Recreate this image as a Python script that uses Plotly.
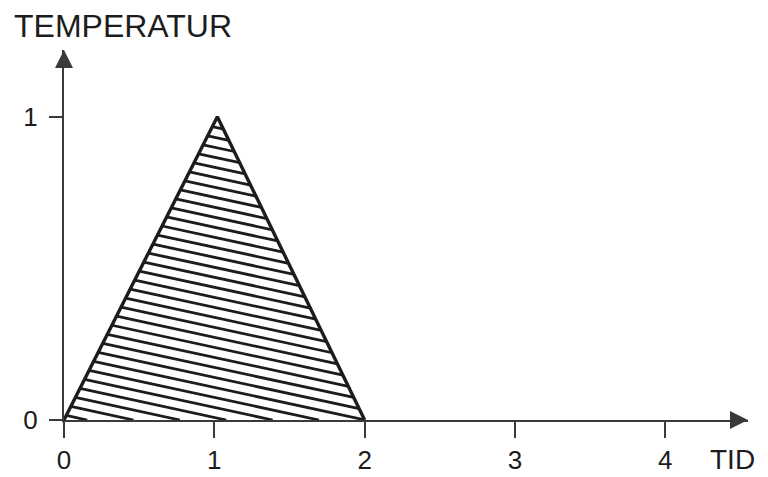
import plotly.graph_objects as go

# triangle pulse: time -> temperature
tid = [0, 1.02, 2]
temperatur = [0, 1, 0]

x_ticks = [0, 1, 2, 3, 4]
y_ticks = [0, 1]

x_max = 4.55
y_max = 1.22

ink = '#1c1c1c'
axis_ink = '#3a3a3a'

# hatch lines (shallow slope, falling to the right)
hatch_slope = -0.107
hatch_step = 0.033


def hatch_lines(px, py, slope, step):
    xs, ys = [], []
    edges = list(zip(zip(px, py), zip(px[1:] + px[:1], py[1:] + py[:1])))
    c_top = max(y - slope * x for x, y in zip(px, py))
    c = step * 0.5
    while c < c_top:
        hits = []
        for (x1, y1), (x2, y2) in edges:
            # solve y = c + slope*x on the edge
            dx, dy = x2 - x1, y2 - y1
            den = dy - slope * dx
            if abs(den) < 1e-12:
                continue
            t = (c + slope * x1 - y1) / den
            if 0 <= t <= 1:
                hits.append(x1 + t * dx)
        if len(hits) >= 2:
            a, b = min(hits), max(hits)
            xs += [a, b, None]
            ys += [c + slope * a, c + slope * b, None]
        c += step
    return xs, ys


hx, hy = hatch_lines(tid, temperatur, hatch_slope, hatch_step)

fig = go.Figure()
fig.add_trace(go.Scatter(x=hx, y=hy, mode='lines',
                         line=dict(color=ink, width=2.8), hoverinfo='skip'))
fig.add_trace(go.Scatter(x=tid, y=temperatur, mode='lines',
                         line=dict(color=ink, width=3.4)))

font = 'Liberation Sans, Arial, sans-serif'

# the page body adds an 8px margin, so the figure is a bit smaller than the window
fig.update_layout(
    width=760, height=469,
    margin=dict(l=56, r=20, t=42, b=57),
    paper_bgcolor='white', plot_bgcolor='white',
    showlegend=False,
    font=dict(family=font, color=ink),
    xaxis=dict(range=[0, x_max], tickvals=x_ticks, ticks='outside', ticklen=16,
               tickwidth=2, tickcolor=axis_ink, showline=True, linecolor=axis_ink,
               linewidth=2, showgrid=False, zeroline=False, automargin=False,
               tickfont=dict(size=26, color=ink), ticklabelstandoff=0),
    yaxis=dict(range=[0, y_max], tickvals=y_ticks, ticks='outside', ticklen=13,
               tickwidth=2, tickcolor=axis_ink, showline=True, linecolor=axis_ink,
               linewidth=2, showgrid=False, zeroline=False, automargin=False,
               tickfont=dict(size=26, color=ink), ticklabelstandoff=6),
)

# axis arrows
fig.add_annotation(x=x_max, y=0, ax=x_max - 0.12, ay=0, xref='x', yref='y',
                   axref='x', ayref='y', text='', showarrow=True, arrowhead=2,
                   arrowsize=1.8, arrowwidth=2, arrowcolor=axis_ink)
fig.add_annotation(x=0, y=y_max, ax=0, ay=y_max - 0.06, xref='x', yref='y',
                   axref='x', ayref='y', text='', showarrow=True, arrowhead=2,
                   arrowsize=1.8, arrowwidth=2, arrowcolor=axis_ink)

# axis titles
fig.add_annotation(x=-0.076, y=1.065, xref='paper', yref='paper', text='TEMPERATUR',
                   showarrow=False, xanchor='left', yanchor='middle',
                   font=dict(size=32, color=ink))
fig.add_annotation(x=0.977, y=-0.108, xref='paper', yref='paper', text='TID',
                   showarrow=False, xanchor='center', yanchor='middle',
                   font=dict(size=28, color=ink))

fig.write_html('out.html')
